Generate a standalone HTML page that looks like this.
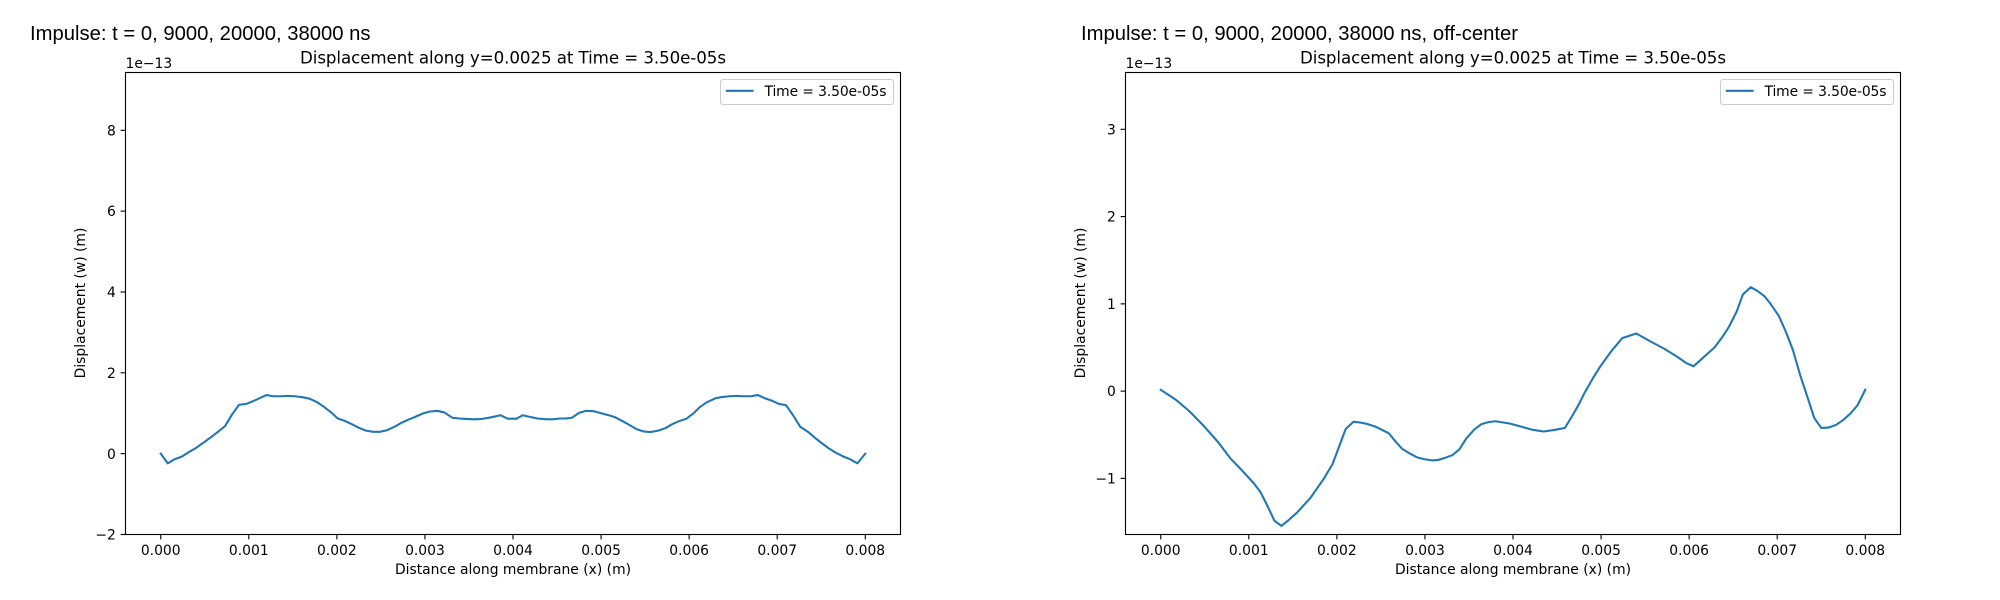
<!DOCTYPE html>
<html lang="en">
<head>
<meta charset="utf-8">
<title>Impulse displacement charts</title>
<style>
html,body{margin:0;padding:0;background:#fff;width:2000px;height:600px;overflow:hidden}
svg{display:block}
text{font-family:"DejaVu Sans",sans-serif;fill:#000}
.sup{font-family:"Liberation Sans",Arial,sans-serif;font-size:20.25px}
.title{font-size:16.67px;text-anchor:middle}
.lab{font-size:13.89px}
</style>
</head>
<body>
<svg id="fig" xmlns="http://www.w3.org/2000/svg" width="2000" height="600" viewBox="0 0 2000 600">
  <rect width="2000" height="600" fill="#fff"/>
  <text class="sup" x="30" y="40">Impulse: t = 0, 9000, 20000, 38000 ns</text>
  <text class="sup" x="1081" y="40">Impulse: t = 0, 9000, 20000, 38000 ns, off-center</text>

  <g id="left-chart">
    <text class="title" x="513" y="63.5" textLength="426">Displacement along y=0.0025 at Time = 3.50e-05s</text>
    <text class="lab" x="125.5" y="68">1e−13</text>
    <text class="lab" x="513" y="574" text-anchor="middle">Distance along membrane (x) (m)</text>
    <text class="lab" transform="translate(85,303) rotate(-90)" text-anchor="middle">Displacement (w) (m)</text>
  </g>
  <g id="right-chart">
    <text class="title" x="1513" y="63.5" textLength="426">Displacement along y=0.0025 at Time = 3.50e-05s</text>
    <text class="lab" x="1125.5" y="68">1e−13</text>
    <text class="lab" x="1513" y="574" text-anchor="middle">Distance along membrane (x) (m)</text>
    <text class="lab" transform="translate(1085,303) rotate(-90)" text-anchor="middle">Displacement (w) (m)</text>
  </g>
</svg>
<script>
const xTickValues = [0, 0.001, 0.002, 0.003, 0.004, 0.005, 0.006, 0.007, 0.008];
const xTickLabels = ["0.000", "0.001", "0.002", "0.003", "0.004", "0.005", "0.006", "0.007", "0.008"];
const leftYTickValues = [-2, 0, 2, 4, 6, 8];
const leftYTickLabels = ["−2", "0", "2", "4", "6", "8"];
const rightYTickValues = [-1, 0, 1, 2, 3];
const rightYTickLabels = ["−1", "0", "1", "2", "3"];
const legendLabel = "Time = 3.50e-05s";

const leftX = [0,.00008,.000155,.00024,.00032,.0004,.00049,.00056,.00065,.00073,.00081,.00089,.00097,.00105,.00112,.0012,.00128,.00136,.00144,.00152,.0016,.00169,.00177,.00184,.00193,.00201,.00209,.00217,.00225,.00233,.00241,.00249,.00257,.00265,.00273,.00281,.00289,.00297,.00305,.00314,.00322,.00331,.00339,.00347,.00356,.00363,.00373,.00386,.00394,.00404,.00411,.00419,.00428,.00438,.00445,.00453,.0046,.00467,.00475,.00483,.00492,.005,.00508,.00516,.00524,.00533,.0054,.00548,.00556,.00565,.00573,.0058,.00588,.00597,.00605,.00612,.0062,.0063,.00637,.00646,.00654,.00662,.0067,.00678,.00686,.00694,.00702,.0071,.00718,.00726,.00735,.00743,.0075,.00758,.00766,.00775,.00783,.00791,.008];
const leftY = [0,-.24,-.14,-.074,.04,.14,.28,.39,.54,.68,.97,1.21,1.23,1.30,1.37,1.45,1.42,1.42,1.43,1.42,1.40,1.36,1.28,1.18,1.03,.87,.81,.73,.64,.57,.54,.54,.58,.66,.76,.84,.91,.99,1.04,1.06,1.02,.89,.87,.86,.85,.855,.89,.95,.865,.865,.95,.91,.87,.85,.85,.87,.87,.89,1.01,1.06,1.05,1.0,.955,.90,.81,.70,.61,.55,.535,.57,.63,.72,.80,.865,1.0,1.15,1.27,1.37,1.40,1.42,1.43,1.42,1.42,1.45,1.37,1.31,1.23,1.2,.95,.67,.54,.39,.27,.14,.03,-.07,-.14,-.24,0];

const rightX = [0,.00016,.00032,.00049,.00065,.00079,.00091,.00106,.00113,.00121,.00129,.00137,.00145,.00155,.0017,.00185,.00195,.00202,.0021,.00219,.00227,.00234,.00243,.00252,.00259,.00267,.00274,.00282,.00291,.00299,.00308,.00315,.00323,.00331,.00339,.00347,.00356,.00364,.00372,.0038,.00396,.00409,.00423,.00435,.00447,.00459,.00467,.00475,.00481,.00491,.00499,.00511,.00524,.0054,.00557,.00572,.00586,.00597,.00605,.00614,.00629,.00638,.00645,.00654,.00661,.0067,.00678,.00686,.00693,.00702,.0071,.00718,.00726,.00735,.00742,.0075,.00758,.00767,.00775,.00783,.00791,.008];
const rightY = [.015,-.09,-.225,-.4,-.583,-.77,-.895,-1.06,-1.153,-1.311,-1.484,-1.545,-1.48,-1.39,-1.223,-1.006,-.838,-.651,-.434,-.35,-.361,-.375,-.404,-.448,-.483,-.582,-.66,-.71,-.759,-.779,-.794,-.789,-.764,-.734,-.67,-.542,-.441,-.379,-.355,-.345,-.371,-.406,-.445,-.463,-.445,-.422,-.288,-.147,-.024,.152,.281,.45,.607,.66,.564,.484,.397,.32,.285,.366,.503,.625,.733,.912,1.108,1.191,1.145,1.083,.992,.859,.676,.465,.186,-.089,-.307,-.422,-.418,-.386,-.33,-.258,-.165,.015];

const SVG_NS = "http://www.w3.org/2000/svg";

function makeShape(parent, tag, attrs, content) {
  const el = document.createElementNS(SVG_NS, tag);
  for (const k in attrs) el.setAttribute(k, attrs[k]);
  if (content !== undefined) el.textContent = content;
  parent.appendChild(el);
  return el;
}

function drawChart(parent, side, offset, yMin, yMax, yTickValues, yTickLabels, xs, ys) {
  const L = 125.5 + offset, R = 900.5 + offset, T = 72.5, B = 534.5;
  const xMin = -0.0004, xMax = 0.0084;
  const sx = v => L + (v - xMin) / (xMax - xMin) * (R - L);
  const sy = v => B - (v - yMin) / (yMax - yMin) * (B - T);
  const AXIS = "#000";

  xTickValues.forEach(function (v, i) {
    const tick = makeShape(parent, "line", {x1: sx(v), x2: sx(v), y1: B, y2: B + 4.9, stroke: AXIS, "stroke-width": 1.11});
    
    
    const label = makeShape(parent, "text", {class: "lab", x: sx(v), y: 555, "text-anchor": "middle"}, xTickLabels[i]);
    
    
  });

  yTickValues.forEach(function (v, i) {
    const y = sy(v);
    const tick = makeShape(parent, "line", {x1: L - 4.9, x2: L, y1: y, y2: y, stroke: AXIS, "stroke-width": 1.11});
    
    
    const label = makeShape(parent, "text", {class: "lab", x: L - 9.7, y: y + 5.1, "text-anchor": "end"}, yTickLabels[i]);
    
    
  });

  const pts = xs.map((v, i) => sx(v).toFixed(2) + "," + sy(ys[i]).toFixed(2)).join(" ");
  const line = makeShape(parent, "polyline", {points: pts, fill: "none", stroke: "#1f77b4", "stroke-width": 2.08, "stroke-linejoin": "round", "stroke-linecap": "square"});
  
  

  const frame = makeShape(parent, "rect", {x: L, y: T, width: R - L, height: B - T, fill: "none", stroke: AXIS, "stroke-width": 1.11});
  
  

  const legend = makeShape(parent, "g", {});
  
  
  const box = makeShape(legend, "rect", {x: 720.5 + offset, y: 79.5, width: 173, height: 25, rx: 2.8, fill: "#fff", "fill-opacity": 0.8, stroke: "#ccc", "stroke-width": 1.11});
  
  
  const swatch = makeShape(legend, "line", {x1: 725.8 + offset, x2: 753.6 + offset, y1: 90.8, y2: 90.8, stroke: "#1f77b4", "stroke-width": 2.08});
  
  
  const text = makeShape(legend, "text", {class: "lab", x: 764.5 + offset, y: 96, textLength: 122}, legendLabel);
  
  
}

drawChart(document.getElementById("left-chart"), "left", 0, -2, 9.43, leftYTickValues, leftYTickLabels, leftX, leftY);
drawChart(document.getElementById("right-chart"), "right", 1000, -1.643, 3.651, rightYTickValues, rightYTickLabels, rightX, rightY);
</script>
</body>
</html>
